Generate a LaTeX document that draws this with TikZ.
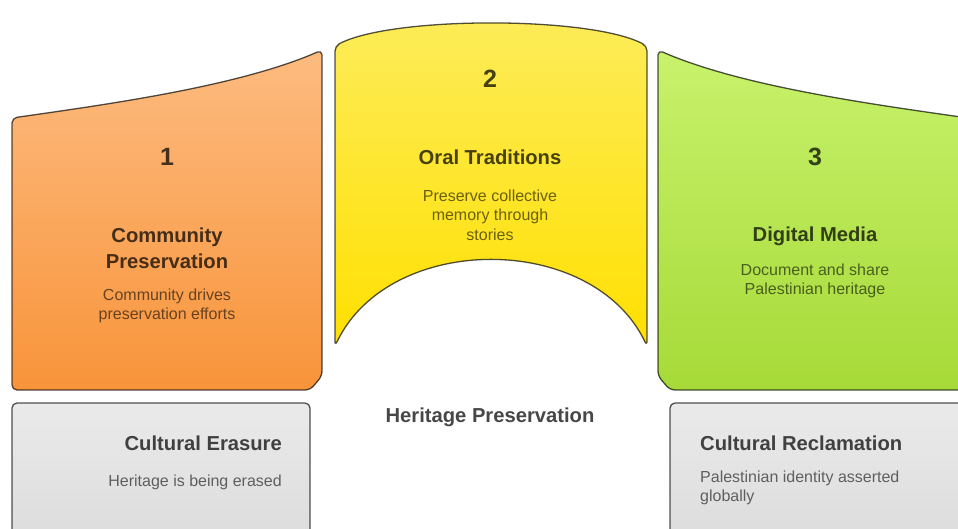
\documentclass[tikz,border=0pt]{standalone}
\usepackage{fontspec}
\setmainfont{Liberation Sans}
\definecolor{orT}{HTML}{FDBB80}
\definecolor{orB}{HTML}{F8943A}
\definecolor{yeT}{HTML}{FDEC5A}
\definecolor{yeB}{HTML}{FFE000}
\definecolor{grT}{HTML}{C8F26C}
\definecolor{grB}{HTML}{A6DA38}
\definecolor{gyT}{HTML}{EAEAEA}
\definecolor{gyB}{HTML}{DCDCDC}
\tikzset{
  shapebox/.style={draw=black, draw opacity=0.68, line width=1.3pt, rounded corners=5pt, line join=round},
  numtxt/.style={font=\bfseries\fontsize{25}{30}\selectfont, text=black, text opacity=0.72, inner sep=0pt},
  ttltxt/.style={font=\bfseries\fontsize{20.2}{26}\selectfont, text=black, text opacity=0.72, align=center, inner sep=0pt},
  dsctxt/.style={font=\fontsize{16}{19.5}\selectfont, text=black, text opacity=0.58, align=center, inner sep=0pt},
}
\begin{document}
\begin{tikzpicture}[x=1pt,y=-1pt]
\clip (0,0) rectangle (958,528);
\fill[white] (0,0) rectangle (958,528);
% orange
\path[shapebox, top color=orT, bottom color=orB]
  (12,118) .. controls (110,104) and (240,86) .. (322,50) -- (322,376) -- (310,390) -- (12,390) -- cycle;
% yellow
\path[shapebox, top color=yeT, bottom color=yeB]
  (335,346) -- (335,46) .. controls (392,16) and (590,16) .. (647,46) -- (647,346) .. controls (592,232) and (390,232) .. (335,346) -- cycle;
% green
\path[shapebox, top color=grT, bottom color=grB]
  (658,50) .. controls (740,86) and (870,104) .. (968,118) -- (968,390) -- (670,390) -- (658,376) -- cycle;
% gray boxes
\path[shapebox, top color=gyT, bottom color=gyB] (12,403) rectangle (310,545);
\path[shapebox, top color=gyT, bottom color=gyB] (670,403) rectangle (968,545);

% texts
\node[numtxt] (n1) at (167,157) {1};
\node[ttltxt] (t1) at (167,248) {Community\\Preservation};
\node[dsctxt] (d1) at (167,306) {Community drives\\preservation efforts};

\node[numtxt] (n2) at (490,79) {2};
\node[ttltxt] (t2) at (490,157) {Oral Traditions};
\node[dsctxt] (d2) at (490,215) {Preserve collective\\memory through\\stories};

\node[numtxt] (n3) at (815,157) {3};
\node[ttltxt] (t3) at (815,236) {Digital Media};
\node[dsctxt] (d3) at (815,281) {Document and share\\Palestinian heritage};

\node[ttltxt] (hp) at (490,417) {Heritage Preservation};

\node[ttltxt, anchor=east] (ce) at (282,443) {Cultural Erasure};
\node[dsctxt, anchor=east] (ced) at (282,482) {Heritage is being erased};

\node[ttltxt, anchor=west] (cr) at (700,443) {Cultural Reclamation};
\node[dsctxt, anchor=west, align=left] (crd) at (700,488) {Palestinian identity asserted\\globally};
\end{tikzpicture}
\end{document}
